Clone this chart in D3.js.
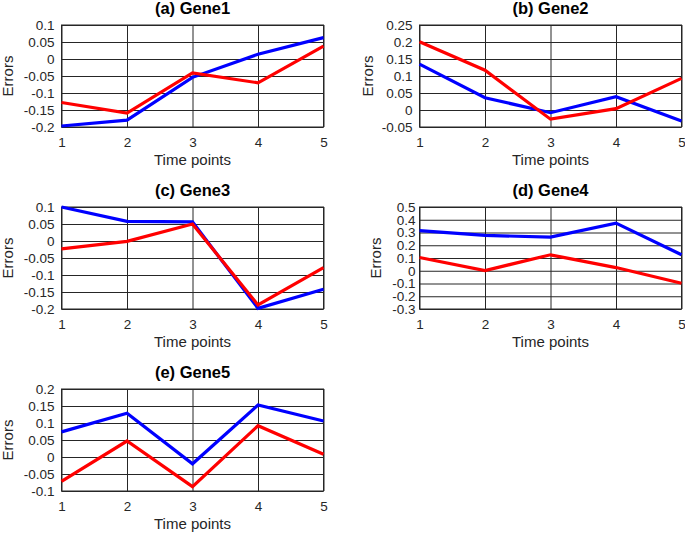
<!DOCTYPE html>
<html>
<head>
<meta charset="utf-8">
<script src="https://cdn.jsdelivr.net/npm/d3@7"></script>
<style>
  body { margin: 0; background: #fff; }
  svg { display: block; font-family: "Liberation Sans", Arial, sans-serif; }
  .tick text { font-size: 13.5px; fill: #262626; }
  .tick line { stroke: #262626; stroke-width: 1; }
</style>
</head>
<body>
<div class="canvas"></div>
<script>
//DATA
const timePoints = [1, 2, 3, 4, 5];

const gene1Blue = [-0.197, -0.180, -0.054, 0.014, 0.063];
const gene1Red  = [-0.128, -0.159, -0.041, -0.070, 0.038];
const gene1Ticks = [-0.2, -0.15, -0.1, -0.05, 0, 0.05, 0.1];

const gene2Blue = [0.135, 0.036, -0.008, 0.039, -0.032];
const gene2Red  = [0.201, 0.117, -0.027, 0.004, 0.093];
const gene2Ticks = [-0.05, 0, 0.05, 0.1, 0.15, 0.2, 0.25];

const gene3Blue = [0.100, 0.058, 0.056, -0.198, -0.142];
const gene3Red  = [-0.023, -0.001, 0.050, -0.188, -0.078];
const gene3Ticks = [-0.2, -0.15, -0.1, -0.05, 0, 0.05, 0.1];

const gene4Blue = [0.314, 0.277, 0.264, 0.374, 0.125];
const gene4Red  = [0.104, 0.002, 0.125, 0.025, -0.098];
const gene4Ticks = [-0.3, -0.2, -0.1, 0, 0.1, 0.2, 0.3, 0.4, 0.5];

const gene5Blue = [0.074, 0.129, -0.020, 0.153, 0.106];
const gene5Red  = [-0.072, 0.047, -0.087, 0.092, 0.008];
const gene5Ticks = [-0.1, -0.05, 0, 0.05, 0.1, 0.15, 0.2];

const titles = ['(a) Gene1', '(b) Gene2', '(c) Gene3', '(d) Gene4', '(e) Gene5'];

//LAYOUT
var w = 685, h = 533;
var pw = 262, ph = 102;
var panels = [
  { title: titles[0], blue: gene1Blue, red: gene1Red, ticks: gene1Ticks, left: 61.5, top: 25, pad: 7, lab: 49 },
  { title: titles[1], blue: gene2Blue, red: gene2Red, ticks: gene2Ticks, left: 419.5, top: 25, pad: 7, lab: 47 },
  { title: titles[2], blue: gene3Blue, red: gene3Red, ticks: gene3Ticks, left: 61.5, top: 207, pad: 7, lab: 49 },
  { title: titles[3], blue: gene4Blue, red: gene4Red, ticks: gene4Ticks, left: 419.5, top: 207, pad: 4, lab: 39 },
  { title: titles[4], blue: gene5Blue, red: gene5Red, ticks: gene5Ticks, left: 61.5, top: 389, pad: 7, lab: 49 }
];

const svg = d3.select('.canvas').append('svg')
  .attr('width', w)
  .attr('height', h);

var fmt = d => String(+d.toFixed(2));

panels.forEach(p => {
  var x = d3.scaleLinear().domain([1, 5]).range([0, pw]);
  var y = d3.scaleLinear().domain(d3.extent(p.ticks)).range([ph, 0]);

  var g = svg.append('g')
    .attr('transform', 'translate(' + p.left + ',' + p.top + ')');

  // y grid + labels
  g.append('g')
    .call(d3.axisLeft(y).tickValues(p.ticks).tickSize(-pw).tickPadding(p.pad).tickFormat(fmt))
    .call(a => a.select('.domain').remove());

  // x grid + labels
  g.append('g')
    .attr('transform', 'translate(0,' + ph + ')')
    .call(d3.axisBottom(x).tickValues(timePoints).tickSize(-ph).tickPadding(10).tickFormat(d3.format('d')))
    .call(a => a.select('.domain').remove());

  // box
  g.append('rect')
    .attr('width', pw).attr('height', ph)
    .attr('fill', 'none')
    .attr('stroke', '#262626')
    .attr('stroke-width', 1);

  var line = d3.line()
    .x((d, i) => x(timePoints[i]))
    .y(d => y(d));

  g.append('path')
    .datum(p.blue)
    .attr('d', line)
    .attr('fill', 'none')
    .attr('stroke', '#0000ff')
    .attr('stroke-width', 3.2);

  g.append('path')
    .datum(p.red)
    .attr('d', line)
    .attr('fill', 'none')
    .attr('stroke', '#ff0000')
    .attr('stroke-width', 3.2);

  //TITLE
  g.append('text')
    .attr('x', pw / 2).attr('y', -11)
    .attr('text-anchor', 'middle')
    .style('font-size', '16.5px')
    .style('font-weight', 'bold')
    .text(p.title);

  //AXIS LABELS
  g.append('text')
    .attr('x', pw / 2).attr('y', ph + 38)
    .attr('text-anchor', 'middle')
    .style('font-size', '15px')
    .attr('fill', '#262626')
    .text('Time points');

  g.append('text')
    .attr('transform', 'translate(' + (-p.lab) + ',' + (ph / 2) + ') rotate(-90)')
    .attr('text-anchor', 'middle')
    .style('font-size', '15px')
    .attr('fill', '#262626')
    .text('Errors');
});
</script>
</body>
</html>
